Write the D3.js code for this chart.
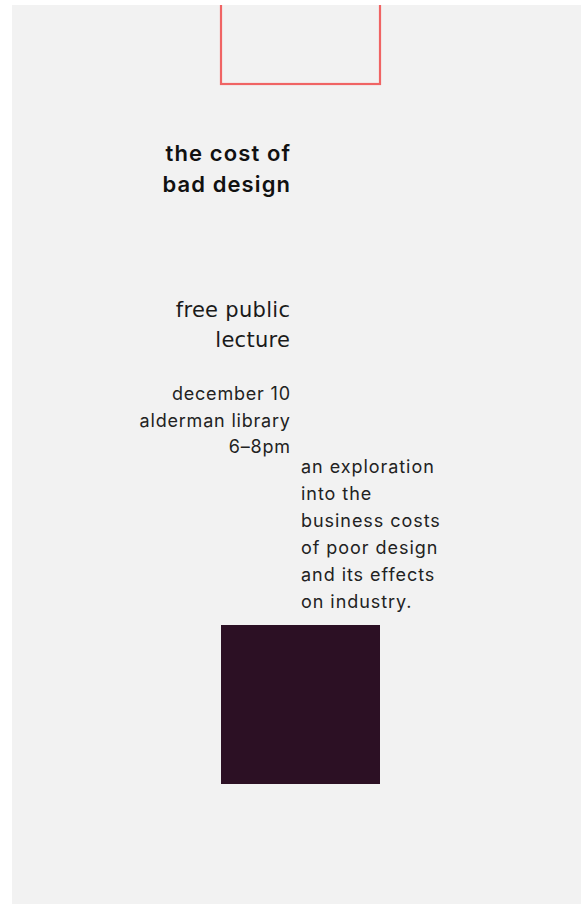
<!DOCTYPE html>
<html>
<head>
<meta charset="utf-8">
<script src="https://cdn.jsdelivr.net/npm/d3@7"></script>
<style>
  body { margin: 0; background: #fff; }
</style>
</head>
<body>
<div id="poster"></div>
<script>
let width = 581;
let height = 905;
let panel = ({top: 5, right: 0, bottom: 1, left: 12});

// poster content
let titleLines = ["the cost of", "bad design"];
let lectureLines = ["free public", "lecture"];
let detailLines = ["december 10", "alderman library", "6–8pm"];
let blurbLines = ["an exploration", "into the", "business costs", "of poor design", "and its effects", "on industry."];

// two squares on the grid (grid rows in poster units)
let squareKinds = ["outline", "solid"];
let squareRows = [-80, 620];
let squareColor = ["#f06464", "#2c1024"];

// poster grid: 1 unit = 1px, offset by the panel
let x = d3.scaleLinear().domain([0, 569]).range([panel.left, width - panel.right]);
let y = d3.scaleLinear().domain([0, 899]).range([panel.top, height - panel.bottom]);
let side = 159;
let squareCol = 209;       // left column of squares
let textEdge = 278;        // right edge of the left text column
let blurbCol = 289;        // start of the right text column

let svg = d3.select("#poster")
    .append("svg")
    .attr("width", width)
    .attr("height", height)
    .attr("viewBox", [0, 0, width, height]);

svg.append("clipPath")
    .attr("id", "panelClip")
    .append("rect")
    .attr("x", x(0)).attr("y", y(0))
    .attr("width", x(569) - x(0)).attr("height", y(899) - y(0));

let g = svg.append("g").attr("clip-path", "url(#panelClip)");

g.append("rect")
    .attr("x", x(0)).attr("y", y(0))
    .attr("width", x(569) - x(0)).attr("height", y(899) - y(0))
    .attr("fill", "#f2f2f2");

g.selectAll(".sq")
    .data(squareKinds)
    .join("rect")
    .attr("class", "sq")
    .attr("x", x(squareCol))
    .attr("y", (d, i) => y(squareRows[i]))
    .attr("width", side)
    .attr("height", side)
    .attr("fill", (d, i) => d == "solid" ? squareColor[i] : "none")
    .attr("stroke", (d, i) => d == "outline" ? squareColor[i] : "none")
    .attr("stroke-width", 2.2);

function block(lines, opts) {
    let sp = opts.spacing || 0;
    g.append("g")
        .selectAll("text")
        .data(lines)
        .join("text")
        .attr("x", opts.x)
        .attr("dx", opts.anchor == "end" ? sp : 0)   // drop the trailing tracking
        .attr("y", (d, i) => y(opts.row + i * opts.lead))
        .attr("text-anchor", opts.anchor)
        .attr("font-family", opts.font)
        .attr("font-size", opts.size)
        .attr("font-weight", opts.weight || 400)
        .attr("letter-spacing", sp)
        .attr("fill", opts.color)
        .text(d => d);
}

block(titleLines, {x: x(textEdge), row: 156, lead: 31, anchor: "end",
    font: "Inter, sans-serif", size: 22, weight: 600, spacing: 1.1, color: "#111"});
block(lectureLines, {x: x(textEdge), row: 312, lead: 30, anchor: "end",
    font: "'DejaVu Sans', sans-serif", size: 21, spacing: 0.3, color: "#1a1a1a"});
block(detailLines, {x: x(textEdge), row: 395, lead: 26.5, anchor: "end",
    font: "Inter, sans-serif", size: 18, spacing: 0.8, color: "#222"});
block(blurbLines, {x: x(blurbCol), row: 468, lead: 27, anchor: "start",
    font: "Inter, sans-serif", size: 18, spacing: 0.95, color: "#222"});
</script>
</body>
</html>
